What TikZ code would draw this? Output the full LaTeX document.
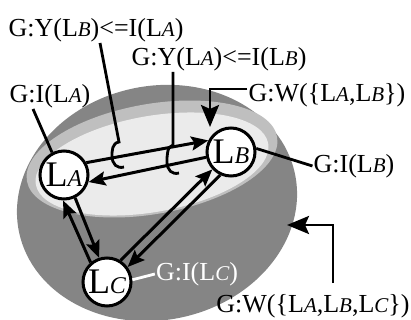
\documentclass[tikz,border=0pt]{standalone}
\usepackage{fontspec}
\setmainfont{Liberation Serif}
\usetikzlibrary{arrows.meta}
\newcommand{\Lsub}[1]{L{\fontsize{21}{21}\selectfont\itshape #1}}
\newcommand{\Lbig}[1]{{\fontsize{36}{36}\selectfont L}{\fontsize{24}{24}\selectfont\itshape #1}}

\begin{document}
\begin{tikzpicture}[x=1pt,y=-1pt,
  lnode/.style={circle,draw,fill=white,line width=3pt,minimum size=48pt,inner sep=0pt},
  conn/.style={line width=3pt,-{Stealth[length=17pt,width=14pt,inset=3pt]}},
  lbl/.style={line width=2.8pt},
  ptr/.style={lbl,-{Stealth[length=22pt,width=18pt,inset=4pt]}},
  txt/.style={inner sep=1pt,font=\fontsize{26}{28}\selectfont}]
  \useasboundingbox (0,0) rectangle (411,320);
  % group areas
  \fill[black!48,rotate around={12:(157,203)}] (157,203) ellipse (141pt and 117pt);
  \fill[black!25,rotate around={10:(152,159)}] (152,159) ellipse (127pt and 55pt);
  \fill[black!8,rotate around={10:(152,164)}] (152,164) ellipse (118pt and 48pt);

  \node[lnode] (LA) at (64,175) {\Lbig{A}};
  \node[lnode] (LB) at (231,152) {\Lbig{B}};
  \node[lnode] (LC) at (107,282) {\Lbig{C}};

  \draw[conn] (LA.29) -- (LB.153);
  \draw[conn] (LB.192) -- (LA.344);
  \draw[conn] (LC.130) -- (LA.268);
  \draw[conn] (LA.296) -- (LC.108);
  \draw[conn] (LC.58) -- (LB.223);
  \draw[conn] (LB.245) -- (LC.36);

  % labels
  \node[txt] (yB) at (96,30) {G:Y(\Lsub{B})<=I(\Lsub{A})};
  \node[txt] (yA) at (219,59) {G:Y(\Lsub{A})<=I(\Lsub{B})};
  \node[txt] (iA) at (50,96) {G:I(\Lsub{A})};
  \node[txt] (wAB) at (327,95) {G:W(\{\Lsub{A},\Lsub{B}\})};
  \node[txt] (iB) at (354,166) {G:I(\Lsub{B})};
  \node[txt,text=white] (iC) at (197,274) {G:I(\Lsub{C})};
  \node[txt] (wABC) at (313,306) {G:W(\{\Lsub{A},\Lsub{B},\Lsub{C}\})};

  \coordinate (hkB) at (119,142);
  \coordinate (hkA) at (173,145);
  \coordinate (wABtip) at (210,127);
  \coordinate (wABCtip) at (287,225);

  \draw[lbl] ([xshift=4pt]yB.south) -- (hkB)
    .. controls (112,143) and (112,151) .. (112,156)
    .. controls (112,164) and (117,169) .. (124,167);
  \draw[lbl] ([xshift=-46pt]yA.south) -- (hkA)
    .. controls (167,146) and (167,156) .. (167,162)
    .. controls (167,170) and (172,175) .. (179,173);
  \draw[lbl] ([xshift=-17pt]iA.south) -- (LA.118);
  \draw[ptr] ([yshift=6pt]wAB.west) -| (wABtip);
  \draw[lbl] (LB.8) -- (iB.west);
  \draw[lbl,white] (LC.5) -- (iC.west);
  \draw[ptr] ([xshift=20pt,yshift=10pt]wABC.north) |- (wABCtip);
\end{tikzpicture}
\end{document}
